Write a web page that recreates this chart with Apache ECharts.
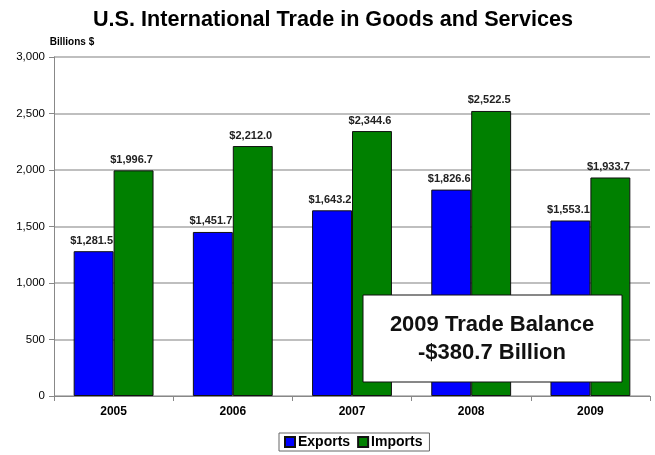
<!DOCTYPE html>
<html><head><meta charset="utf-8">
<script src="https://cdn.jsdelivr.net/npm/echarts@6/dist/echarts.min.js"></script>
<style>html,body{margin:0;padding:0;background:#fff}#c{width:655px;height:455px}</style>
</head><body><div id="c"></div>
<script>
const years = ['2005','2006','2007','2008','2009'];
const exportsVals = [1281.5, 1451.7, 1643.2, 1826.6, 1553.1];
const importsVals = [1996.7, 2212.0, 2344.6, 2522.5, 1933.7];
const yTicks = [0, 500, 1000, 1500, 2000, 2500, 3000];

const fmt = v => '$' + v.toLocaleString('en-US', {minimumFractionDigits:1, maximumFractionDigits:1});
const chart = echarts.init(document.getElementById('c'));
const lbl = {show:true, position:'top', distance:5, offset:[-2,0], fontFamily:'Liberation Sans, Arial', fontSize:11, fontWeight:'bold', color:'#222',
  formatter: p => fmt(p.value)};
chart.setOption({
  animation:false,
  title:{text:'U.S. International Trade in Goods and Services', left:328, textAlign:'center', top:4,
    textStyle:{fontFamily:'Liberation Sans, Arial', fontSize:21.6, fontWeight:'bold', color:'#000'}},
  legend:{top:433, left:279, itemWidth:10, itemHeight:10, itemGap:7, icon:'rect',
    borderColor:'#666', borderWidth:1, padding:[2,7,2,5],
    textStyle:{fontFamily:'Liberation Sans, Arial', fontSize:14, fontWeight:'bold', color:'#000', padding:[0,0,0,-2]},
    data:['Exports','Imports']},
  grid:{left:54, right:5, top:57, bottom:59},
  xAxis:{type:'category', data:years,
    axisLine:{lineStyle:{color:'#888'}}, axisTick:{show:true, lineStyle:{color:'#888'}, length:5},
    axisLabel:{fontFamily:'Liberation Sans, Arial', fontSize:12, fontWeight:'bold', color:'#000', margin:10}},
  yAxis:{type:'value', min:0, max:3000, interval:500,
    axisLine:{show:true, lineStyle:{color:'#888'}}, axisTick:{show:true, inside:false, length:5, lineStyle:{color:'#888'}},
    splitLine:{lineStyle:{color:'#aaa', width:1.5}},
    axisLabel:{fontFamily:'Liberation Sans, Arial', fontSize:11.5, color:'#000', margin:9,
      formatter: v => yTicks.includes(v) ? v.toLocaleString('en-US') : ''}},
  series:[
    {name:'Exports', type:'bar', data:exportsVals, barGap:'0%', barCategoryGap:'33%',
      itemStyle:{color:'#0000ff', borderColor:'#111', borderWidth:1}, label:lbl},
    {name:'Imports', type:'bar', data:importsVals,
      itemStyle:{color:'#008000', borderColor:'#111', borderWidth:1}, label:lbl}
  ],
  graphic:[
    {type:'text', x:72, y:42, z:101, style:{text:'Billions $', align:'center', verticalAlign:'middle',
      fontFamily:'Liberation Sans, Arial', fontSize:10, fontWeight:'bold', fill:'#000'}},
    {type:'rect', shape:{x:363, y:295, width:259, height:87}, style:{fill:'#fff', stroke:'#111', lineWidth:1}, z:100},
    {type:'text', x:492, y:339, z:101, style:{text:'2009 Trade Balance\n-$380.7 Billion', align:'center', verticalAlign:'middle',
      fontFamily:'Liberation Sans, Arial', fontSize:22, fontWeight:'bold', lineHeight:28, fill:'#111'}}
  ]
});
</script></body></html>
